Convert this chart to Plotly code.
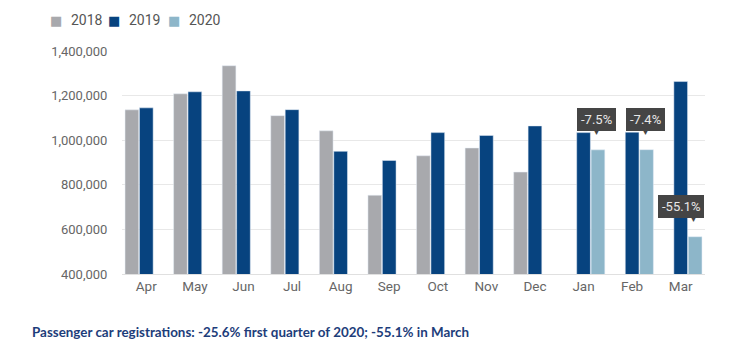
import plotly.graph_objects as go

months = ["Apr", "May", "Jun", "Jul", "Aug", "Sep", "Oct", "Nov", "Dec", "Jan", "Feb", "Mar"]
y2018 = [1136000, 1208000, 1334000, 1110000, 1042000, 753000, 930000, 965000, 857000, None, None, None]
y2019 = [1145000, 1217000, 1221000, 1137000, 950000, 909000, 1034000, 1021000, 1064000, 1034000, 1036000, 1263000]
y2020 = [None, None, None, None, None, None, None, None, None, 956700, 957400, 567000]
series_names = ["2018", "2019", "2020"]
change_labels = {"Jan": "-7.5%", "Feb": "-7.4%", "Mar": "-55.1%"}
y_ticks = [400000, 600000, 800000, 1000000, 1200000, 1400000]
title_text = "Passenger car registrations: -25.6% first quarter of 2020; -55.1% in March"

colors = ["#a8a9ad", "#07437f", "#8db6c9"]

# layout geometry (figure pixels)
W, H = 750, 363
ML, MR, MT, MB = 114, 53, 43, 97
PW, PH = W - ML - MR, H - MT - MB


def px_x(px):
    return (px - ML) / PW


def px_y(py):
    return (H - MB - py) / PH


fig = go.Figure()
for name, vals, col in zip(series_names, [y2018, y2019, y2020], colors):
    fig.add_trace(go.Bar(name=name, x=months, y=vals, marker_color=col))

for m, lab in change_labels.items():
    i = months.index(m)
    v = y2020[i]
    box_shift = 0 if m == "Mar" else 13
    fig.add_annotation(x=m, y=v, xref="x", yref="y", text=lab, showarrow=False,
                       xshift=box_shift, yshift=30, bgcolor="#454545", bordercolor="#454545",
                       borderpad=3, font=dict(color="#e8e8e8", size=13, family="Roboto"))
    fig.add_annotation(x=m, y=v, xref="x", yref="y", text="▼", showarrow=False,
                       xshift=13, yshift=17, font=dict(color="#454545", size=7))

# legend row (swatch + label), drawn as text
legend_text_x = [61, 119, 179]
for name, col, tx in zip(series_names, colors, legend_text_x):
    fig.add_annotation(x=px_x(tx - 5), y=px_y(12), xref="paper", yref="paper",
                       xanchor="right", yanchor="middle", text="■", showarrow=False,
                       font=dict(family="DejaVu Sans", size=13, color=col))
    fig.add_annotation(x=px_x(tx), y=px_y(12), xref="paper", yref="paper",
                       xanchor="left", yanchor="middle", text=name, showarrow=False,
                       font=dict(family="Roboto", size=14, color="#555555"))

fig.add_annotation(x=px_x(22), y=px_y(324), xref="paper", yref="paper",
                   xanchor="left", yanchor="middle", text=title_text, showarrow=False,
                   font=dict(family="Lato", size=13.4, color="#1d3d7a", weight="bold"))

fig.update_layout(
    width=W, height=H,
    margin=dict(l=ML, r=MR, t=MT, b=MB, autoexpand=False),
    paper_bgcolor="white", plot_bgcolor="white",
    barmode="group", bargap=0.11, bargroupgap=0.05,
    font=dict(family="Roboto", color="#666666", size=12),
    showlegend=False,
)
fig.update_yaxes(range=[400000, 1400000], tickvals=y_ticks, tickformat=",d",
                 gridcolor="#e8e8e8", zeroline=False, showline=False,
                 ticks="outside", ticklen=11, tickcolor="white", tickfont=dict(size=13))
fig.update_xaxes(showgrid=False, showline=True, linecolor="#e0e0e0", tickfont=dict(size=13.5))

fig.write_html("out.html")
